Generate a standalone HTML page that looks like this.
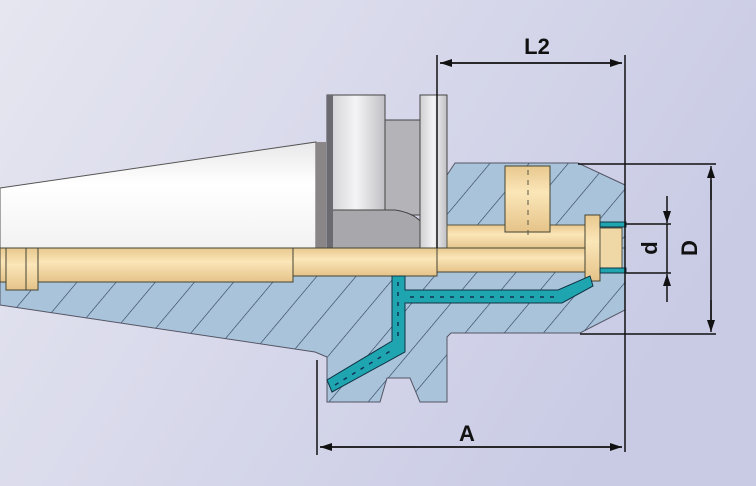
<!DOCTYPE html>
<html><head><meta charset="utf-8"><style>
html,body{margin:0;padding:0;width:756px;height:486px;overflow:hidden}
svg{display:block}
text{font-family:"Liberation Sans",Arial,sans-serif;font-weight:bold;fill:#111}
</style></head><body>
<svg width="756" height="486" viewBox="0 0 756 486" xmlns="http://www.w3.org/2000/svg">
<defs>
<linearGradient id="bg" x1="0" y1="0" x2="1" y2="0.4">
<stop offset="0" stop-color="#e6e6f0"/><stop offset="1" stop-color="#c9cbe5"/>
</linearGradient>
<pattern id="hatch" patternUnits="userSpaceOnUse" width="30" height="30" patternTransform="rotate(40)">
<rect width="30" height="30" fill="#a9c4da"/>
<line x1="0" y1="0" x2="0" y2="30" stroke="#2a3a5a" stroke-width="1.2"/>
</pattern>
<linearGradient id="white" x1="0" y1="0" x2="0" y2="1">
<stop offset="0" stop-color="#e8e8ea"/><stop offset="0.4" stop-color="#ffffff"/><stop offset="1" stop-color="#f2f2f2"/>
</linearGradient>
<linearGradient id="rod" x1="0" y1="0" x2="0" y2="1">
<stop offset="0" stop-color="#e8c88e"/><stop offset="0.4" stop-color="#fbe6b8"/><stop offset="1" stop-color="#e5c389"/>
</linearGradient>
<linearGradient id="ring" x1="0" y1="0" x2="1" y2="0">
<stop offset="0" stop-color="#cfcfd2"/><stop offset="0.5" stop-color="#f4f4f6"/><stop offset="1" stop-color="#c0c0c4"/>
</linearGradient>
<marker id="ar" markerWidth="12" markerHeight="8" refX="12" refY="4" orient="auto" markerUnits="userSpaceOnUse">
<path d="M0,0 L12,4 L0,8 z" fill="#111"/></marker>
</defs>
<rect width="756" height="486" fill="url(#bg)"/>

<!-- lower hatched body -->
<path d="M0,282 L0,305 L315,352 L327,357 L327,402 L380,402 L387,378 L410,378 L420,402 L447,402 L447,337 L451,333 L580,333 L625,310 L625,248 L0,248 Z" fill="url(#hatch)" stroke="#556" stroke-width="1"/>
<!-- upper hatched body -->
<path d="M447,225 L447,175 L455,163 L578,163 L625,185 L625,248 L447,248 Z" fill="url(#hatch)" stroke="#556" stroke-width="1"/>

<!-- taper white -->
<path d="M0,188 L316,142 L316,248 L0,248 Z" fill="url(#white)" stroke="#555" stroke-width="1"/>
<rect x="316" y="142" width="10" height="106" fill="#8a8688"/>
<!-- flange -->
<rect x="327" y="95" width="58" height="118" fill="url(#ring)" stroke="#444"/>
<rect x="385" y="120" width="37" height="95" fill="#b4b4b8" stroke="#444"/>
<path d="M327,210 L395,210 Q430,215 430,248 L327,248 Z" fill="#a8a8ac" stroke="#444"/>
<rect x="420" y="95" width="27" height="153" fill="url(#ring)" stroke="#444"/>
<rect x="327" y="95" width="6" height="153" fill="#6a6a70"/>

<!-- bore upper tan -->
<rect x="447" y="225" width="140" height="24" fill="url(#rod)" stroke="#554" stroke-width="1"/>
<!-- screw -->
<rect x="505" y="166" width="45" height="66" fill="url(#rod)" stroke="#443" stroke-width="1"/>
<line x1="528" y1="170" x2="528" y2="240" stroke="#554" stroke-dasharray="5,5"/>
<!-- rod -->
<rect x="0" y="248" width="293" height="34" fill="url(#rod)" stroke="#443"/>
<rect x="6" y="248" width="20" height="42" fill="url(#rod)" stroke="#443"/>
<rect x="26" y="248" width="12" height="42" fill="url(#rod)" stroke="#443"/>
<rect x="293" y="248" width="144" height="28" fill="url(#rod)" stroke="#443"/>
<rect x="437" y="248" width="150" height="24" fill="url(#rod)" stroke="#443"/>
<rect x="585" y="215" width="15" height="66" fill="url(#rod)" stroke="#443"/>
<rect x="600" y="228" width="22" height="42" fill="#f0d8a6" stroke="#554"/>
<!-- coolant -->
<g fill="#1fa5b0" stroke="#134" stroke-width="1">
<path d="M392,276 L405,276 L405,290 L558,290 L590,276 L593,286 L562,303 L405,303 L405,352 L332,392 L327,380 L392,341 Z"/>
<rect x="600" y="222" width="26" height="5"/>
<rect x="600" y="268" width="26" height="5"/>
</g>
<g stroke="#135" stroke-dasharray="4,6" stroke-width="1.5">
<line x1="398" y1="282" x2="398" y2="340"/>
<line x1="410" y1="297" x2="558" y2="297"/>
<line x1="335" y1="385" x2="392" y2="350"/>
</g>

<!-- dimensions -->
<g stroke="#111" stroke-width="1.5" fill="none">
<line x1="437" y1="55" x2="437" y2="248"/>
<line x1="625" y1="55" x2="625" y2="452"/>
<line x1="317" y1="360" x2="317" y2="455"/>
<line x1="440" y1="63" x2="622" y2="63" marker-end="url(#ar)"/>
<line x1="622" y1="63" x2="440" y2="63" marker-end="url(#ar)"/>
<line x1="320" y1="447" x2="622" y2="447" marker-end="url(#ar)"/>
<line x1="622" y1="447" x2="320" y2="447" marker-end="url(#ar)"/>
<line x1="578" y1="164" x2="716" y2="164"/>
<line x1="580" y1="334" x2="716" y2="334"/>
<line x1="711" y1="200" x2="711" y2="166" marker-end="url(#ar)"/>
<line x1="711" y1="300" x2="711" y2="332" marker-end="url(#ar)"/>
<line x1="711" y1="180" x2="711" y2="320"/>
<line x1="626" y1="224" x2="671" y2="224"/>
<line x1="626" y1="273" x2="671" y2="273"/>
<line x1="667" y1="196" x2="667" y2="223" marker-end="url(#ar)"/>
<line x1="667" y1="302" x2="667" y2="274" marker-end="url(#ar)"/>
<line x1="667" y1="224" x2="667" y2="273"/>
</g>
<text x="537" y="54" font-size="22" text-anchor="middle">L2</text>
<text x="467" y="441" font-size="22" text-anchor="middle">A</text>
<text transform="translate(657,248) rotate(-90)" font-size="22" text-anchor="middle">d</text>
<text transform="translate(697,248) rotate(-90)" font-size="22" text-anchor="middle">D</text>
</svg>
</body></html>
